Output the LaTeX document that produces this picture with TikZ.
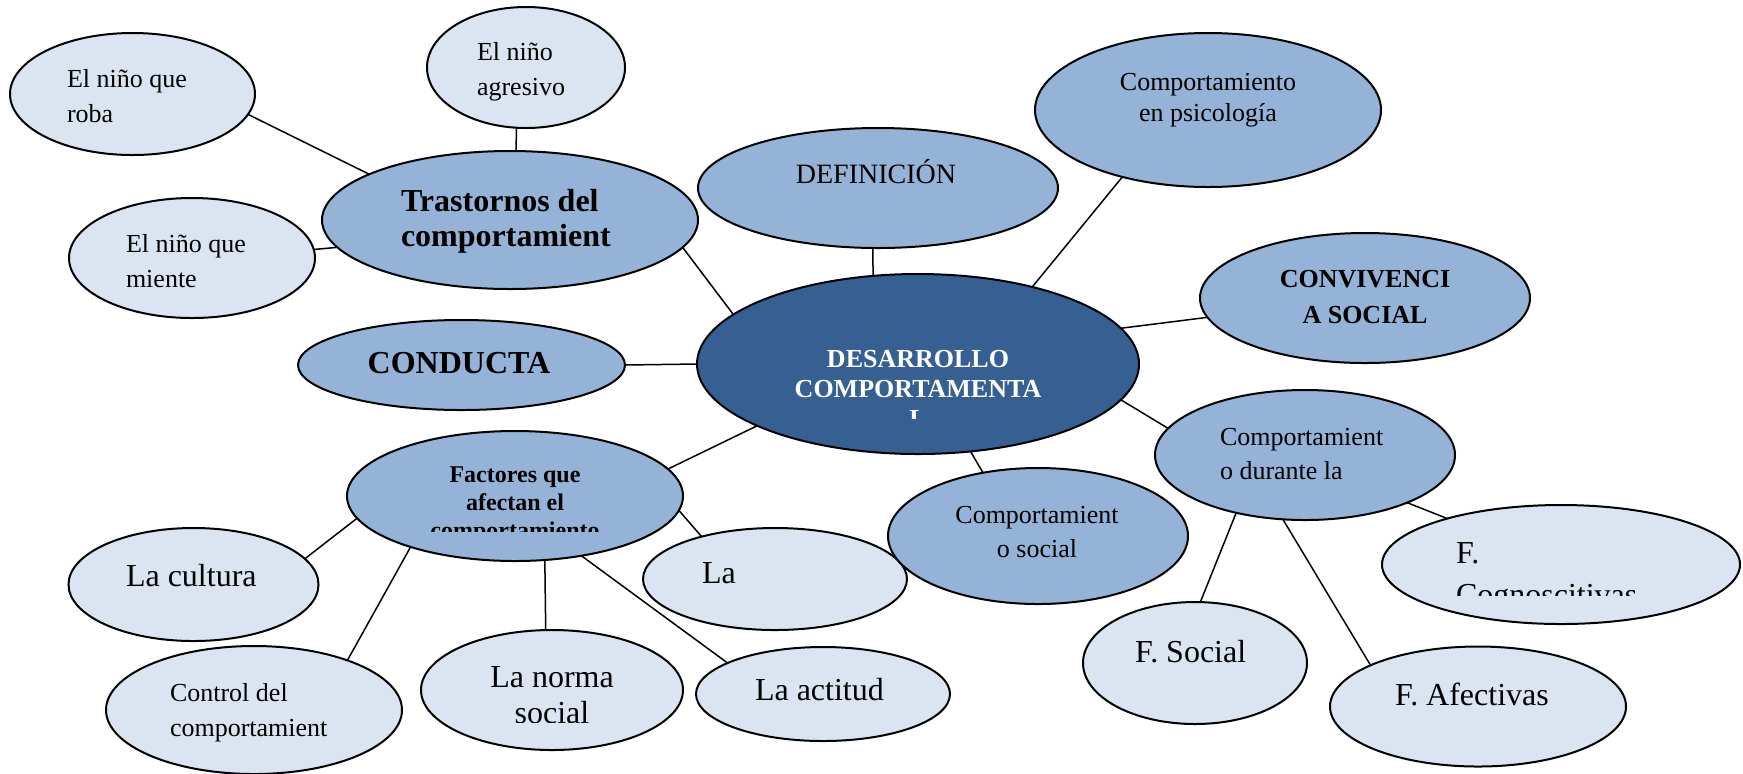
\documentclass[tikz,border=0pt]{standalone}
\usepackage{fontspec}
\setmainfont{Liberation Serif}
\usetikzlibrary{shapes.geometric}
\pgfdeclarelayer{bg}
\pgfsetlayers{bg,main}
\definecolor{dk}{HTML}{376092}
\definecolor{md}{HTML}{95B3D7}
\definecolor{lt}{HTML}{DBE5F1}
\newcommand\TL[1]{\vtop{\halign{##\hfil\cr#1\crcr}}}
\newcommand\TC[1]{\vtop{\halign{\hfil##\hfil\cr#1\crcr}}}
\begin{document}
\begin{tikzpicture}[x=0.5pt,y=-0.5pt,
  el/.style={ellipse, draw=black, line width=1pt, inner sep=0pt, outer sep=0pt},
  dkE/.style={el, fill=dk},
  mdE/.style={el, fill=md},
  ltE/.style={el, fill=lt},
  tx/.style={inner sep=0pt, outer sep=0pt},
  sm/.style={tx, font=\fontsize{13}{17.5}\selectfont},
  big/.style={tx, font=\fontsize{16}{17.5}\selectfont},
  con/.style={line width=0.75pt, draw=black}]
\useasboundingbox (0,0) rectangle (1743,773);
\begin{pgfonlayer}{bg}
\fill[white] (0,0) rectangle (1743,773);
\end{pgfonlayer}

% ellipses
\node[dkE, minimum width=221pt, minimum height=90pt] (cen) at (918,364) {};
\node[ltE, minimum width=122.5pt, minimum height=61pt] (roba) at (132.5,94) {};
\node[ltE, minimum width=99pt, minimum height=60.5pt] (agr) at (526,67.5) {};
\node[mdE, minimum width=188pt, minimum height=69pt] (tras) at (510,220) {};
\node[ltE, minimum width=123pt, minimum height=60pt] (mie) at (192,258) {};
\node[mdE, minimum width=163.5pt, minimum height=45pt] (cond) at (461.5,365) {};
\node[mdE, minimum width=180pt, minimum height=60pt] (defi) at (878,188) {};
\node[mdE, minimum width=173pt, minimum height=77pt] (psi) at (1208,110) {};
\node[mdE, minimum width=165pt, minimum height=65pt] (conv) at (1365,298) {};
\node[mdE, minimum width=150pt, minimum height=65pt] (dur) at (1305,455) {};
\node[mdE, minimum width=168pt, minimum height=65pt] (fac) at (515,496) {};
\node[ltE, minimum width=125pt, minimum height=56.5pt] (cult) at (193.5,584.5) {};
\node[ltE, minimum width=148pt, minimum height=64pt] (ctrl) at (254,710) {};
\node[ltE, minimum width=131pt, minimum height=60pt] (norma) at (552,690) {};
\node[ltE, minimum width=132pt, minimum height=51pt] (la) at (775,579) {};
\node[ltE, minimum width=127pt, minimum height=47pt] (act) at (823,694) {};
\node[mdE, minimum width=150pt, minimum height=68pt] (soc) at (1038,536) {};
\node[ltE, minimum width=112pt, minimum height=61pt] (fsoc) at (1195,663) {};
\node[ltE, minimum width=148pt, minimum height=60pt] (afe) at (1478,706.5) {};
\node[ltE, minimum width=179pt, minimum height=59.5pt] (cog) at (1561,564.5) {};

% connectors
\begin{pgfonlayer}{bg}
\draw[con] (roba.-10.6) -- (tras.162.5);
\draw[con] (agr.-99.4) -- (tras.85);
\draw[con] (mie.4.6) -- (tras.189.3);
\draw[con] (tras.-9.2) -- (cen.165.9);
\draw[con] (defi.-95.7) -- (cen.117);
\draw[con] (psi.218.4) -- (cen.34.1);
\draw[con] (conv.187) -- (cen.10.4);
\draw[con] (cen.-10.4) -- (dur.169.3);
\draw[con] (cen.-59.4) -- (soc.131.6);
\draw[con] (dur.-140.4) -- (fsoc.85);
\draw[con] (dur.-109) -- (afe.159.2);
\draw[con] (dur.-25) -- (cog.158.9);
\draw[con] (cond.east) -- (cen.west);
\draw[con] (cen.201.5) -- (fac.10.9);
\draw[con] (fac.188.8) -- (cult.13.3);
\draw[con] (fac.206.8) -- (ctrl.28);
\draw[con] (fac.-65.9) -- (norma.96);
\draw[con] (fac.-42) -- (act.162.3);
\draw[con] (fac.-5.8) -- (la.150.4);
\end{pgfonlayer}

% texts
\node[sm, anchor=base west] (t-roba) at (67,87) {\TL{El niño que\cr roba}};
\node[sm, anchor=base west] (t-agr) at (477,60) {\TL{El niño\cr agresivo}};
\node[sm, anchor=base west] (t-mie) at (126,252) {\TL{El niño que\cr miente}};
\node[tx, anchor=base west, font=\bfseries\fontsize{16}{17.5}\selectfont] (t-tras) at (401,211) {\TL{Trastornos del\cr comportamient}};
\node[tx, anchor=base, font=\bfseries\fontsize{16}{17.5}\selectfont] (t-cond) at (459,373) {CONDUCTA};
\node[tx, anchor=base, font=\fontsize{14}{17}\selectfont] (t-defi) at (876,183) {DEFINICIÓN};
\node[tx, anchor=base, font=\fontsize{13}{15.5}\selectfont] (t-psi) at (1208,90) {\TC{Comportamiento\cr en psicología}};
\node[tx, anchor=base, font=\bfseries\fontsize{13}{18}\selectfont] (t-conv) at (1365,287) {\TC{CONVIVENCI\cr A SOCIAL}};
\begin{scope}
\clip (700,300) rectangle (1140,418);
\node[tx, anchor=base, text=white, font=\bfseries\fontsize{13}{15}\selectfont] (t-cen) at (918,367) {\TC{DESARROLLO\cr COMPORTAMENTA\cr L}};
\end{scope}
\node[tx, anchor=base west, font=\fontsize{13}{17}\selectfont] (t-dur) at (1220,445) {\TL{Comportamient\cr o durante la}};
\node[tx, anchor=base, font=\fontsize{13}{17}\selectfont] (t-soc) at (1037,523) {\TC{Comportamient\cr o social}};
\begin{scope}
\clip (360,440) rectangle (680,531);
\node[tx, anchor=base, font=\bfseries\fontsize{12}{14}\selectfont] (t-fac) at (515,482) {\TC{Factores que\cr afectan el\cr comportamiento}};
\end{scope}
\node[big, anchor=base west] (t-cult) at (126,586) {La cultura};
\node[sm, anchor=base west] (t-ctrl) at (170,701) {\TL{Control del\cr comportamient}};
\begin{scope}
\clip (430,640) rectangle (680,722);
\node[tx, anchor=base, font=\fontsize{16}{18}\selectfont] (t-norma) at (552,687) {\TC{La norma\cr social}};
\end{scope}
\node[big, anchor=base west] (t-la) at (702,583) {La};
\node[big, anchor=base west] (t-act) at (755,700) {La actitud};
\node[big, anchor=base west] (t-fsoc) at (1135,662) {F. Social};
\node[big, anchor=base west] (t-afe) at (1395,705) {F. Afectivas};
\begin{scope}
\clip (1400,520) rectangle (1720,595);
\node[tx, anchor=base west, font=\fontsize{16}{21}\selectfont] (t-cog) at (1456,563) {\TL{F.\cr Cognoscitivas}};
\end{scope}
\end{tikzpicture}
\end{document}
